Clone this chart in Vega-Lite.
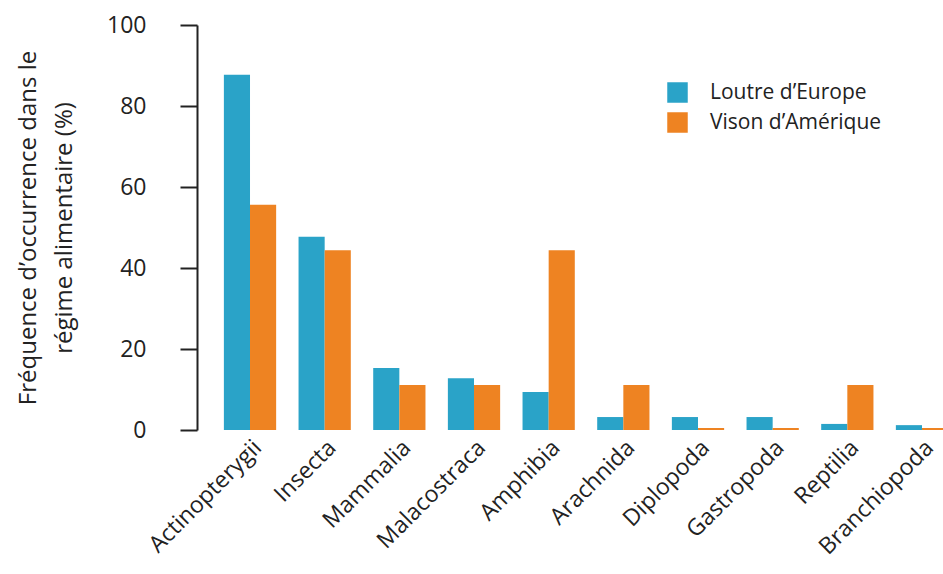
{
  "$schema": "https://vega.github.io/schema/vega-lite/v6.json",
  "autosize": {"type": "none"},
  "padding": {"left": 197, "top": 25, "right": 0, "bottom": 144},
  "width": 746,
  "height": 405,
  "background": "white",
  "config": {
    "font": "Open Sans",
    "view": {"stroke": null}
  },
  "data": {
    "values": [
      {"category": "Actinopterygii", "species": "Loutre d’Europe", "value": 87.7},
      {"category": "Actinopterygii", "species": "Vison d’Amérique", "value": 55.6},
      {"category": "Insecta", "species": "Loutre d’Europe", "value": 47.7},
      {"category": "Insecta", "species": "Vison d’Amérique", "value": 44.4},
      {"category": "Mammalia", "species": "Loutre d’Europe", "value": 15.3},
      {"category": "Mammalia", "species": "Vison d’Amérique", "value": 11.1},
      {"category": "Malacostraca", "species": "Loutre d’Europe", "value": 12.8},
      {"category": "Malacostraca", "species": "Vison d’Amérique", "value": 11.1},
      {"category": "Amphibia", "species": "Loutre d’Europe", "value": 9.4},
      {"category": "Amphibia", "species": "Vison d’Amérique", "value": 44.4},
      {"category": "Arachnida", "species": "Loutre d’Europe", "value": 3.2},
      {"category": "Arachnida", "species": "Vison d’Amérique", "value": 11.1},
      {"category": "Diplopoda", "species": "Loutre d’Europe", "value": 3.2},
      {"category": "Diplopoda", "species": "Vison d’Amérique", "value": 0.5},
      {"category": "Gastropoda", "species": "Loutre d’Europe", "value": 3.2},
      {"category": "Gastropoda", "species": "Vison d’Amérique", "value": 0.5},
      {"category": "Reptilia", "species": "Loutre d’Europe", "value": 1.5},
      {"category": "Reptilia", "species": "Vison d’Amérique", "value": 11.1},
      {"category": "Branchiopoda", "species": "Loutre d’Europe", "value": 1.2},
      {"category": "Branchiopoda", "species": "Vison d’Amérique", "value": 0.5}
    ]
  },
  "mark": {"type": "bar", "clip": true},
  "encoding": {
    "x": {
      "field": "category",
      "type": "nominal",
      "sort": null,
      "scale": {"range": [0, 778], "paddingInner": 0.3, "paddingOuter": 0.36},
      "axis": {
        "title": null,
        "domain": false,
        "ticks": false,
        "labelAngle": -45,
        "labelAlign": "right",
        "labelBaseline": "top",
        "labelPadding": 6,
        "labelFontSize": 23,
        "labelLimit": 300,
        "labelColor": "#222",
        "labelFont": "Open Sans"
      }
    },
    "xOffset": {
      "field": "species",
      "type": "nominal",
      "scale": {"paddingInner": 0, "paddingOuter": 0}
    },
    "y": {
      "field": "value",
      "type": "quantitative",
      "scale": {"domain": [0, 100], "nice": false},
      "axis": {
        "title": ["Fréquence d’occurrence dans le", "régime alimentaire (%)"],
        "titleFontSize": 24,
        "titleFontWeight": "normal",
        "titleColor": "#222",
        "titleLineHeight": 36,
        "titlePadding": 30,
        "values": [0, 20, 40, 60, 80, 100],
        "grid": false,
        "domainColor": "#222",
        "domainWidth": 2,
        "tickColor": "#222",
        "tickWidth": 2,
        "tickSize": 17,
        "labelPadding": 34,
        "labelFontSize": 23,
        "labelColor": "#222"
      }
    },
    "color": {
      "field": "species",
      "type": "nominal",
      "scale": {
        "domain": ["Loutre d’Europe", "Vison d’Amérique"],
        "range": ["#2aa3c8", "#ee8322"]
      },
      "legend": {
        "title": null,
        "orient": "none",
        "legendX": 470,
        "legendY": 57,
        "symbolType": "square",
        "symbolSize": 420,
        "symbolStrokeWidth": 0,
        "labelFontSize": 21,
        "labelLimit": 400,
        "labelColor": "#222",
        "labelOffset": 22,
        "rowPadding": 8
      }
    }
  }
}
